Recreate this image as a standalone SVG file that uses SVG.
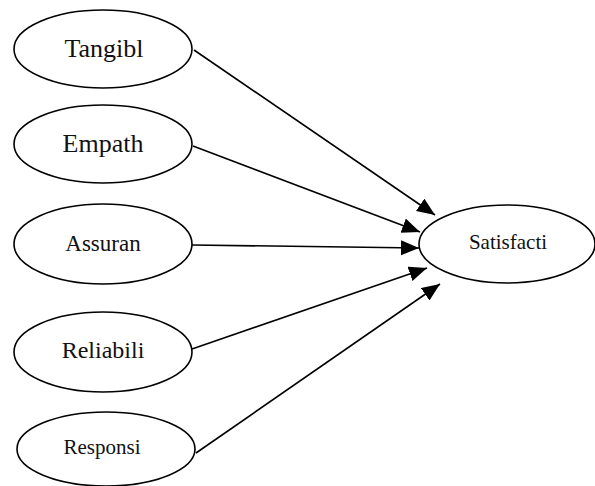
<svg xmlns="http://www.w3.org/2000/svg" width="595" height="486" viewBox="0 0 595 486">
<style>
.n ellipse{fill:#fff;stroke:#000;stroke-width:1.6}
.n text{font-family:"Liberation Serif","Times New Roman",serif;fill:#111;text-anchor:middle}
.e line{stroke:#000;stroke-width:1.6}
</style>
<defs>
<marker id="ah" markerUnits="userSpaceOnUse" markerWidth="20" markerHeight="16" refX="18" refY="7.5" orient="auto">
<path d="M0,0 L18,7.5 L0,15 Z" fill="#000"/>
</marker>
</defs>
<rect width="595" height="486" fill="#fff"/>
<g class="e">
<line x1="194" y1="50" x2="435" y2="215" marker-end="url(#ah)"/>
<line x1="193" y1="146" x2="420" y2="232" marker-end="url(#ah)"/>
<line x1="192" y1="245" x2="419" y2="248" marker-end="url(#ah)"/>
<line x1="192" y1="349" x2="427" y2="268" marker-end="url(#ah)"/>
<line x1="196" y1="453" x2="440" y2="284" marker-end="url(#ah)"/>
</g>
<g class="n" id="tangibl"><ellipse cx="103" cy="49" rx="89" ry="39"/><text x="104" y="57" font-size="26">Tangibl</text></g>
<g class="n" id="empath"><ellipse cx="103" cy="144" rx="89" ry="39"/><text x="103" y="152" font-size="26">Empath</text></g>
<g class="n" id="assuran"><ellipse cx="103" cy="244" rx="89" ry="40"/><text x="103" y="251" font-size="23">Assuran</text></g>
<g class="n" id="reliabili"><ellipse cx="103" cy="352" rx="89" ry="40"/><text x="103" y="358" font-size="24">Reliabili</text></g>
<g class="n" id="responsi"><ellipse cx="106" cy="449" rx="89" ry="37"/><text x="102" y="454" font-size="21">Responsi</text></g>
<g class="n" id="satisfacti"><ellipse cx="507" cy="244" rx="88" ry="39"/><text x="508" y="249" font-size="21">Satisfacti</text></g>
</svg>
